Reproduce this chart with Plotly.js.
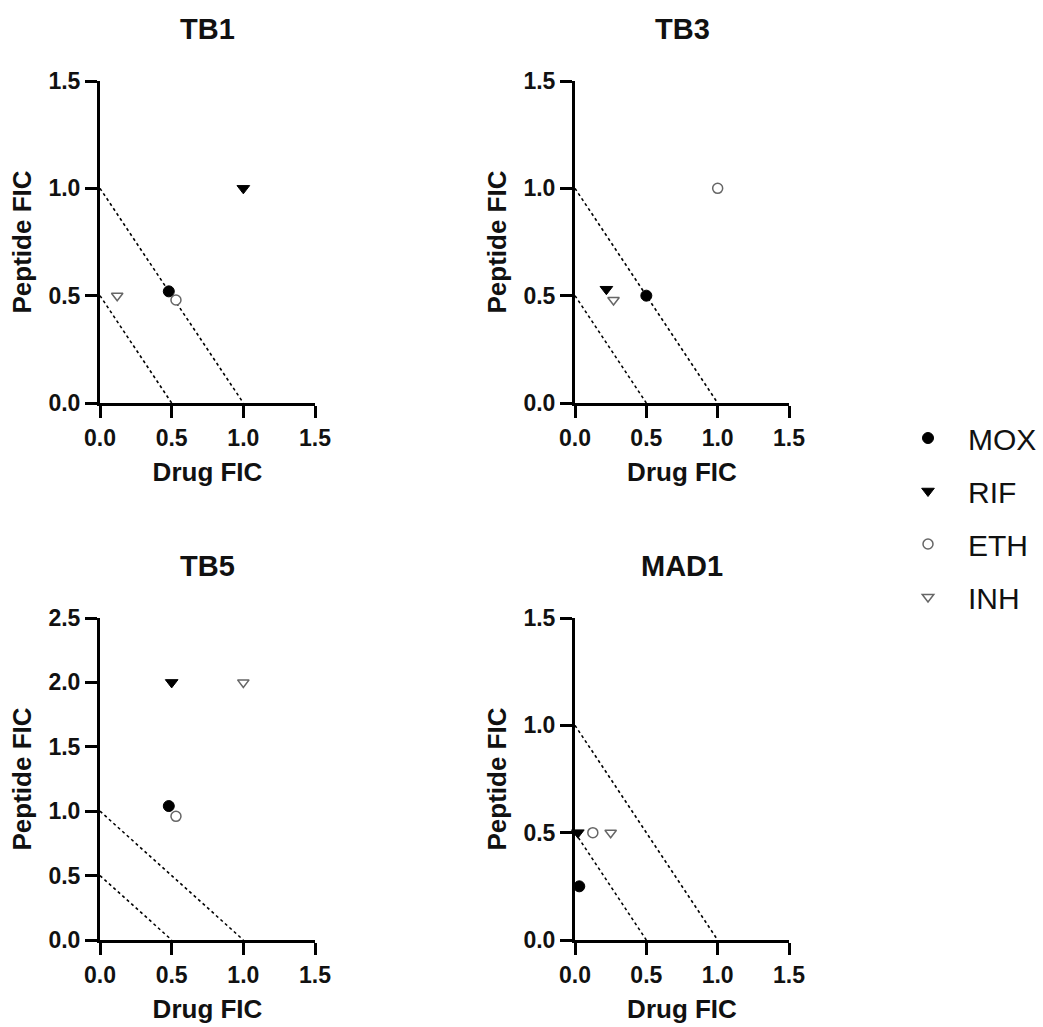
<!DOCTYPE html>
<html>
<head>
<meta charset="utf-8">
<script src="https://cdn.plot.ly/plotly-3.0.1.min.js"></script>
<style>html,body{margin:0;padding:0;background:#fff;}#chart{width:1043px;height:1027px;}</style>
</head>
<body>
<div id="chart"></div>
<script>
// ---- data ----
const drugs = ['MOX', 'RIF', 'ETH', 'INH'];
const panels = ['TB1', 'TB3', 'TB5', 'MAD1'];

const TB1_drugFIC = [0.48, 1.00, 0.53, 0.12];
const TB1_peptideFIC = [0.52, 1.00, 0.48, 0.50];

const TB3_drugFIC = [0.50, 0.22, 1.00, 0.27];
const TB3_peptideFIC = [0.50, 0.53, 1.00, 0.48];

const TB5_drugFIC = [0.48, 0.50, 0.53, 1.00];
const TB5_peptideFIC = [1.04, 2.00, 0.96, 2.00];

const MAD1_drugFIC = [0.03, 0.02, 0.125, 0.25];
const MAD1_peptideFIC = [0.25, 0.50, 0.50, 0.50];

// additivity (FICI = 1) and synergy (FICI = 0.5) reference lines
const fici1_x = [0, 1];
const fici1_y = [1, 0];
const fici05_x = [0, 0.5];
const fici05_y = [0.5, 0];

const xTicks = [0, 0.5, 1.0, 1.5];
const xTickText = ['0.0', '0.5', '1.0', '1.5'];
const yTicksSmall = [0, 0.5, 1.0, 1.5];
const yTickTextSmall = ['0.0', '0.5', '1.0', '1.5'];
const yTicksLarge = [0, 0.5, 1.0, 1.5, 2.0, 2.5];
const yTickTextLarge = ['0.0', '0.5', '1.0', '1.5', '2.0', '2.5'];

// ---- styles ----
const W = 1043, H = 1027;
const FONT = 'Liberation Sans, Arial, sans-serif';
const markerStyles = {
  MOX: {symbol: 'circle', size: 11, color: '#000000', line: {color: '#000000', width: 1}},
  RIF: {symbol: 'triangle-down', size: 11, color: '#000000', line: {color: '#000000', width: 1}},
  ETH: {symbol: 'circle', size: 10, color: '#ffffff', line: {color: '#666666', width: 1.5}},
  INH: {symbol: 'triangle-down', size: 10, color: '#ffffff', line: {color: '#666666', width: 1.5}}
};

const panelData = {
  TB1: [TB1_drugFIC, TB1_peptideFIC],
  TB3: [TB3_drugFIC, TB3_peptideFIC],
  TB5: [TB5_drugFIC, TB5_peptideFIC],
  MAD1: [MAD1_drugFIC, MAD1_peptideFIC]
};

// pixel boxes of the plot areas
const boxes = {
  TB1: {x0: 100, x1: 315, y0: 81, y1: 403, ymax: 1.5},
  TB3: {x0: 575, x1: 789, y0: 81, y1: 403, ymax: 1.5},
  TB5: {x0: 100, x1: 315, y0: 618, y1: 940, ymax: 2.5},
  MAD1: {x0: 575, x1: 789, y0: 618, y1: 940, ymax: 1.5}
};

const traces = [];
const layout = {
  width: W, height: H,
  margin: {l: 0, r: 0, t: 0, b: 0},
  paper_bgcolor: '#ffffff',
  plot_bgcolor: 'rgba(0,0,0,0)',
  showlegend: true,
  font: {family: FONT, color: '#111111'},
  legend: {
    x: 888 / W, y: 1 - 412 / H, xanchor: 'left', yanchor: 'top',
    itemwidth: 70,
    font: {size: 30, family: FONT, color: '#111111'},
    tracegroupgap: 11, bgcolor: 'rgba(0,0,0,0)', itemclick: false
  },
  annotations: []
};

panels.forEach((p, i) => {
  const n = i + 1;
  const xa = n === 1 ? 'x' : 'x' + n;
  const ya = n === 1 ? 'y' : 'y' + n;
  const b = boxes[p];
  // reference lines
  [[fici1_x, fici1_y], [fici05_x, fici05_y]].forEach(l => {
    traces.push({
      x: l[0], y: l[1], xaxis: xa, yaxis: ya, type: 'scatter', mode: 'lines',
      line: {color: '#000000', width: 1.6, dash: '3px,3px'},
      showlegend: false, hoverinfo: 'skip'
    });
  });
  const [xs, ys] = panelData[p];
  drugs.forEach((d, k) => {
    traces.push({
      x: [xs[k]], y: [ys[k]], xaxis: xa, yaxis: ya, type: 'scatter', mode: 'markers',
      name: d, legendgroup: d, showlegend: i === 0,
      marker: markerStyles[d], cliponaxis: false
    });
  });
  const axCommon = {
    showline: true, linewidth: 3, linecolor: '#000000',
    ticks: 'outside', ticklen: 12, tickwidth: 3, tickcolor: '#000000',
    showgrid: false, zeroline: false, automargin: false, fixedrange: true,
    tickfont: {size: 23, weight: 'bold', family: FONT, color: '#111111'}
  };
  layout['xaxis' + (n === 1 ? '' : n)] = Object.assign({}, axCommon, {
    domain: [b.x0 / W, b.x1 / W], anchor: ya, range: [0, 1.5],
    tickvals: xTicks, ticktext: xTickText, ticklabelstandoff: 0,
    title: {text: 'Drug FIC', standoff: 14, font: {size: 26, weight: 'bold', family: FONT, color: '#111111'}}
  });
  layout['yaxis' + (n === 1 ? '' : n)] = Object.assign({}, axCommon, {
    domain: [1 - b.y1 / H, 1 - b.y0 / H], anchor: xa, range: [0, b.ymax],
    tickvals: b.ymax > 2 ? yTicksLarge : yTicksSmall,
    ticktext: b.ymax > 2 ? yTickTextLarge : yTickTextSmall,
    title: {text: 'Peptide FIC', standoff: 10, font: {size: 26, weight: 'bold', family: FONT, color: '#111111'}}
  });
  layout.annotations.push({
    text: p, xref: 'paper', yref: 'paper', showarrow: false,
    x: (b.x0 + b.x1) / 2 / W, y: 1 - (b.y0 - 52) / H, xanchor: 'center', yanchor: 'middle',
    font: {size: 29, weight: 'bold', family: FONT, color: '#111111'}
  });
});

Plotly.newPlot('chart', traces, layout, {displayModeBar: false, staticPlot: true});
</script>
</body>
</html>
